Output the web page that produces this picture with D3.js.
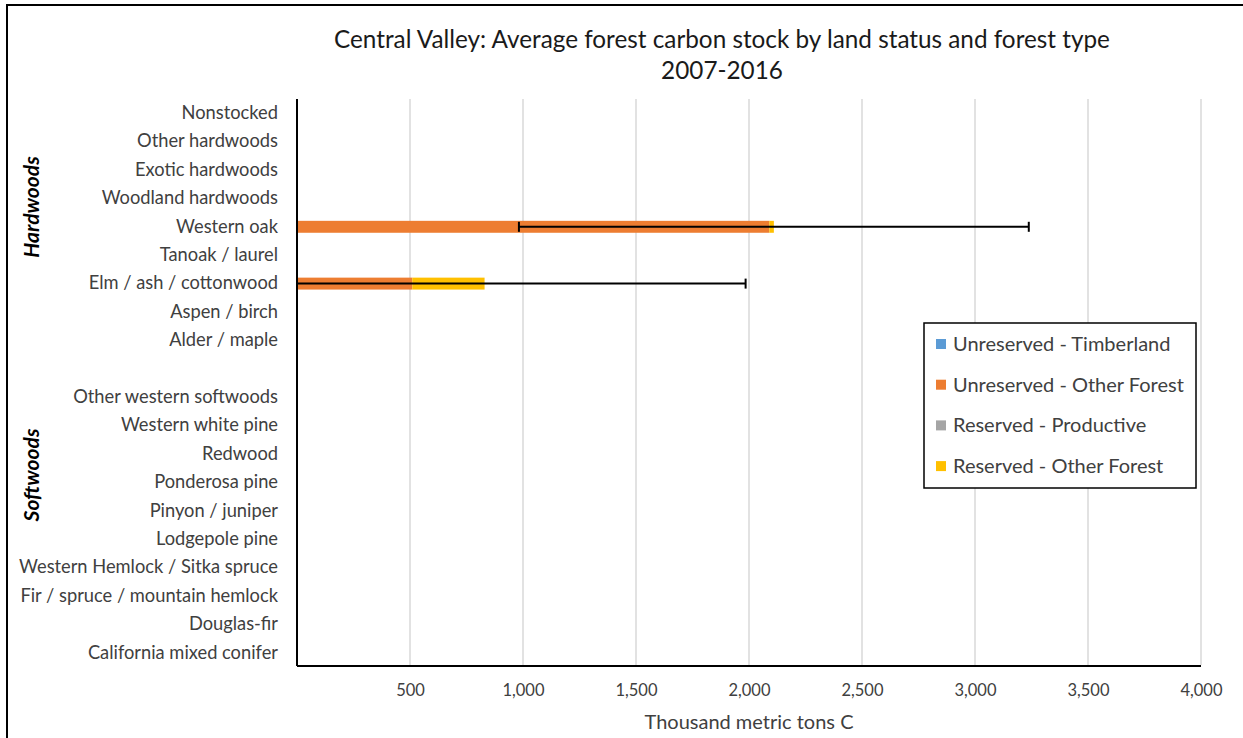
<!DOCTYPE html>
<html><head><meta charset="utf-8">
<script src="https://cdn.jsdelivr.net/npm/d3@7"></script>
<style>body{margin:0;background:#fff}svg{display:block}text{font-family:Lato,"Open Sans",sans-serif;fill:#404040}</style>
</head><body><svg id="c" width="1243" height="738"></svg>
<script>
const categories = ["Nonstocked","Other hardwoods","Exotic hardwoods","Woodland hardwoods","Western oak","Tanoak / laurel","Elm / ash / cottonwood","Aspen / birch","Alder / maple","",
 "Other western softwoods","Western white pine","Redwood","Ponderosa pine","Pinyon / juniper","Lodgepole pine","Western Hemlock / Sitka spruce","Fir / spruce / mountain hemlock","Douglas-fir","California mixed conifer"];
const seriesNames = ["Unreserved - Timberland","Unreserved - Other Forest","Reserved - Productive","Reserved - Other Forest"];
const seriesColors = ["#5b9bd5","#ed7d31","#a5a5a5","#ffc000"];
const unresTimber = [0,0,0,0,0,0,0,0,0,0, 0,0,0,0,0,0,0,0,0,0];
const unresOther  = [0,0,0,0,2090,0,510,0,0,0, 0,0,0,0,0,0,0,0,0,0];
const resProd     = [0,0,0,0,0,0,0,0,0,0, 0,0,0,0,0,0,0,0,0,0];
const resOther    = [0,0,0,0,20,0,320,0,0,0, 0,0,0,0,0,0,0,0,0,0];
const errPlus     = [0,0,0,0,1128,0,1155,0,0,0, 0,0,0,0,0,0,0,0,0,0];
const xTicks = [500,1000,1500,2000,2500,3000,3500,4000];
const groupLabels = ["Hardwoods","Softwoods"];

const svg = d3.select("#c");
const L = 297, R = 1201, T = 99, B = 667;
const x = d3.scaleLinear().domain([0,4000]).range([L,R]);
const y = d3.scaleBand().domain(categories).range([T,B]).paddingInner(0.58).paddingOuter(0.29);

// outer border
svg.append("rect").attr("x",7).attr("y",5).attr("width",1260).attr("height",760)
  .attr("fill","none").attr("stroke","#000").attr("stroke-width",2);

// title
svg.append("text").attr("x",722).attr("y",48).attr("text-anchor","middle").style("font-size","24.3px").style("fill","#1a1a1a").text("Central Valley: Average forest carbon stock by land status and forest type");
svg.append("text").attr("x",722).attr("y",79).attr("text-anchor","middle").style("font-size","24.3px").style("fill","#1a1a1a").text("2007-2016");

// gridlines
svg.append("g").selectAll("line").data(xTicks).join("line")
  .attr("x1",d=>x(d)).attr("x2",d=>x(d)).attr("y1",T).attr("y2",B-2)
  .attr("stroke","#d9d9d9").attr("stroke-width",1.5);

// stacked bars
const table = categories.map((c,i)=>({cat:c, s0:unresTimber[i], s1:unresOther[i], s2:resProd[i], s3:resOther[i]}));
const stack = d3.stack().keys(["s0","s1","s2","s3"])(table);
svg.append("g").selectAll("g").data(stack).join("g").attr("fill",(d,i)=>seriesColors[i])
  .selectAll("rect").data(d=>d.filter(e=>e[1]-e[0]>0)).join("rect")
  .attr("x",d=>x(d[0])).attr("width",d=>x(d[1])-x(d[0]))
  .attr("y",d=>y(d.data.cat)).attr("height",y.bandwidth());

// error bars
const eb = table.map((d,i)=>({cat:d.cat,total:d.s0+d.s1+d.s2+d.s3,e:errPlus[i]})).filter(d=>d.e>0);
const eg = svg.append("g").attr("stroke","#000").attr("stroke-width",2);
eb.forEach(d=>{
  const cy = y(d.cat)+y.bandwidth()/2;
  const lo = Math.max(0,d.total-d.e), hi = d.total+d.e;
  eg.append("line").attr("x1",x(lo)).attr("x2",x(hi)).attr("y1",cy).attr("y2",cy);
  if (d.total-d.e>0) eg.append("line").attr("x1",x(lo)).attr("x2",x(lo)).attr("y1",cy-5).attr("y2",cy+5);
  eg.append("line").attr("x1",x(hi)).attr("x2",x(hi)).attr("y1",cy-5).attr("y2",cy+5);
});

// axes lines
svg.append("line").attr("x1",L).attr("x2",L).attr("y1",T).attr("y2",B-1).attr("stroke","#000").attr("stroke-width",2);
svg.append("line").attr("x1",L).attr("x2",R).attr("y1",B-1).attr("y2",B-1).attr("stroke","#000").attr("stroke-width",2);

// x axis
const xa = svg.append("g").attr("transform",`translate(0,${B})`).call(d3.axisBottom(x).tickValues(xTicks).tickFormat(d3.format(",")).tickSize(0).tickPadding(17));
xa.select(".domain").remove();
xa.selectAll("text").style("font-size","16.5px").style("font-family","Lato").attr("fill","#404040");
svg.append("text").attr("x",749).attr("y",729).attr("text-anchor","middle").style("font-size","20px").text("Thousand metric tons C");

// y axis
const ya = svg.append("g").attr("transform",`translate(${L},0)`).call(d3.axisLeft(y).tickSize(0).tickPadding(19));
ya.select(".domain").remove();
ya.selectAll("text").style("font-size","18.3px").style("font-family","Lato").attr("fill","#404040");

// group labels
[[groupLabels[0],207],[groupLabels[1],475]].forEach(([t,cy])=>{
  svg.append("text").attr("transform",`translate(39,${cy}) rotate(-90)`).attr("text-anchor","middle")
    .style("font-size","21px").style("font-weight","bold").style("font-style","italic").style("fill","#000").text(t);
});

// legend
const lg = svg.append("g");
lg.append("rect").attr("x",924).attr("y",323).attr("width",272).attr("height",165).attr("fill","#fff").attr("stroke","#000").attr("stroke-width",1.5);
seriesNames.forEach((n,i)=>{
  const ly = 344 + i*40.7;
  lg.append("rect").attr("x",936).attr("y",ly-5).attr("width",10).attr("height",10).attr("fill",seriesColors[i]);
  lg.append("text").attr("x",953).attr("y",ly+7).style("font-size","20px").text(n);
});
</script></body></html>
